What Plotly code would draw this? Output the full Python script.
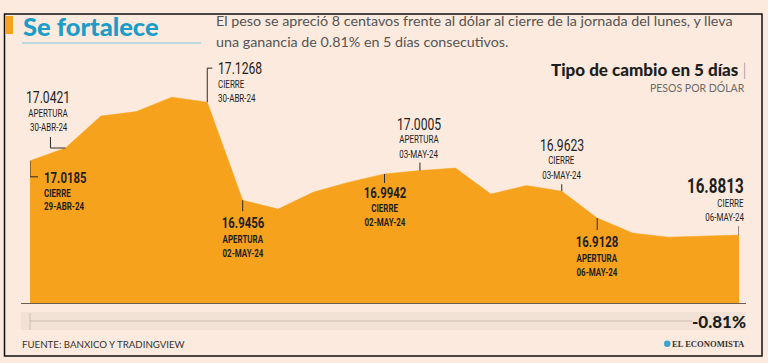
import plotly.graph_objects as go

# ---------------- data ----------------
puntos = list(range(21))  # observaciones intradía, 29-abr a 06-may-24
tipo_cambio = [17.0185, 17.0421, 17.1010, 17.1093, 17.1360, 17.1268, 16.9456,
               16.9293, 16.9607, 16.9791, 16.9942, 17.0005, 17.0050, 16.9570,
               16.9727, 16.9623, 16.9128, 16.8850, 16.8776, 16.8795, 16.8813]
etiqueta_idx = [0, 1, 5, 6, 10, 11, 15, 16, 20]
etiqueta_tipo = ["CIERRE", "APERTURA", "CIERRE", "APERTURA", "CIERRE",
                 "APERTURA", "CIERRE", "APERTURA", "CIERRE"]
etiqueta_fecha = ["29-ABR-24", "30-ABR-24", "30-ABR-24", "02-MAY-24", "02-MAY-24",
                  "03-MAY-24", "03-MAY-24", "06-MAY-24", "06-MAY-24"]
variacion = "-0.81%"
titulo = "Se fortalece"
subtitulo = ["El peso se apreció 8 centavos frente al dólar al cierre de la jornada del lunes, y lleva",
             "una ganancia de 0.81% en 5 días consecutivos."]
titulo_grafico = "Tipo de cambio en 5 días"
unidad = "PESOS POR DÓLAR"
fuente = "FUENTE: BANXICO Y TRADINGVIEW"
medio = "EL ECONOMISTA"

# ---------------- layout helpers ----------------
W, H = 768, 363
ML, MR, MT, MB = 30, 29, 60, 60
PW, PH = W - ML - MR, H - MT - MB
Y0, Y1 = 16.756, 16.756 + 243 / 541.7

def px(x):
    return (x - ML) / PW

def py(y):
    return (H - MB - y) / PH

BG = "#fbeadd"
ORANGE = "#f7a21d"
BLUE = "#1b9dc8"
NARROW = "Roboto, sans-serif"
SANS = "Lato, Open Sans, sans-serif"

fig = go.Figure()
fig.add_trace(go.Scatter(
    x=puntos, y=tipo_cambio, mode="lines", fill="tozeroy",
    fillcolor=ORANGE, line=dict(color=ORANGE, width=0.5), hoverinfo="skip"))

shapes = []
annotations = []

# label style specs: leader path (pixels, y up), anchor, dx, screen dy per line, bold flags, sizes
specs = [
    ("M0,0 L0,-16 L8,-16", "left", 12, [17, 33, 46], (True, True, True), (15, 10.5, 10.5)),
    ("M0,0 L-15,0 L-15,11", "center", -17, [-51, -35, -21], (False, False, False), (16, 10.5, 10.5)),
    ("M0,0 L0,34 L5,34", "left", 9, [-34, -18, -4], (False, False, False), (16, 10.5, 10.5)),
    ("M0,0 L0,-11", "center", 0, [23, 39, 53], (True, True, True), (15, 10.5, 10.5)),
    ("M0,0 L0,-9", "center", 0, [19, 35, 49], (True, True, True), (15, 10.5, 10.5)),
    ("M0,0 L0,8", "center", -1, [-46, -31, -16], (False, False, False), (16, 10.5, 10.5)),
    ("M0,0 L0,7", "center", 0, [-46, -31, -16], (False, False, False), (16, 10.5, 10.5)),
    ("M0,0 L0,-12", "center", 0, [24, 40, 54], (True, True, True), (15, 10.5, 10.5)),
    ("M0,0 L0,9", "right", 7, [-49, -32, -18], (True, False, False), (20, 10.5, 10.5)),
]

for k, i in enumerate(etiqueta_idx):
    path, anchor, dx, dys, bolds, sizes = specs[k]
    v = tipo_cambio[i]
    shapes.append(dict(type="path", xref="x", yref="y", xsizemode="pixel", ysizemode="pixel",
                       xanchor=i, yanchor=v, path=path, line=dict(color="#2b2b2b", width=1)))
    textos = [f"{v:.4f}", etiqueta_tipo[k], etiqueta_fecha[k]]
    for t, dy, b, s in zip(textos, dys, bolds, sizes):
        annotations.append(dict(
            x=i, y=v, xref="x", yref="y", xshift=dx, yshift=-dy,
            text=f"<b>{t}</b>" if b else t, showarrow=False,
            xanchor=anchor, yanchor="middle",
            font=dict(family=NARROW, size=s, color="#1e1e1e")))
N_NARROW = len(annotations)

# frame and decorations
shapes += [
    dict(type="rect", xref="paper", yref="paper", x0=px(4.5), x1=px(762), y0=py(14), y1=py(356),
         line=dict(color="#111111", width=1.5), layer="above"),
    dict(type="rect", xref="paper", yref="paper", x0=px(5.5), x1=px(13), y0=py(16), y1=py(34),
         fillcolor=ORANGE, line=dict(width=0)),
    dict(type="line", xref="paper", yref="paper", x0=px(22), x1=px(201), y0=py(43), y1=py(43),
         line=dict(color="#7cc4dc", width=1)),
    dict(type="rect", xref="paper", yref="paper", x0=px(21), x1=px(746), y0=py(312), y1=py(330),
         fillcolor="#f1e2d5", line=dict(width=0), layer="below"),
    dict(type="line", xref="paper", yref="paper", x0=px(30), x1=px(692), y0=py(321), y1=py(321),
         line=dict(color="#cbbdb0", width=1)),
    dict(type="line", xref="paper", yref="paper", x0=px(30), x1=px(30), y0=py(313), y1=py(330),
         line=dict(color="#cbbdb0", width=1)),
    dict(type="line", xref="paper", yref="paper", x0=px(21), x1=px(746), y0=py(303.5), y1=py(303.5),
         line=dict(color="#6e5e52", width=1)),
    dict(type="circle", xref="paper", yref="paper", x0=px(664), x1=px(670.5), y0=py(340.5), y1=py(347),
         fillcolor="#3aa6cf", line=dict(width=0)),
]

annotations += [
    dict(x=px(21), y=py(26), text=titulo, xanchor="left",
         font=dict(family=SANS, size=25.5, color=BLUE, weight=900)),
    dict(x=px(214), y=py(21), text=subtitulo[0], xanchor="left",
         font=dict(family=SANS, size=14.3, color="#555555")),
    dict(x=px(214), y=py(41), text=subtitulo[1], xanchor="left",
         font=dict(family=SANS, size=14.3, color="#555555")),
    dict(x=px(748), y=py(69),
         text=f"{titulo_grafico} <span style='color:#888888;font-weight:300'>|</span>", xanchor="right",
         font=dict(family=SANS, size=17, color="#1e1e1e", weight=900)),
    dict(x=px(747), y=py(87), text=unidad, xanchor="right",
         font=dict(family=SANS, size=10.5, color="#6a6a6a")),
    dict(x=px(748), y=py(321), text=variacion, xanchor="right",
         font=dict(family=SANS, size=17, color="#1e1e1e", weight=900)),
    dict(x=px(20), y=py(344), text=fuente, xanchor="left",
         font=dict(family=SANS, size=9.7, color="#333333")),
    dict(x=px(747), y=py(344), text=f"<b>{medio}</b>", xanchor="right",
         font=dict(family="Liberation Serif, DejaVu Serif, serif", size=8.6, color="#333333")),
]
for a in annotations[N_NARROW:]:
    a.update(xref="paper", yref="paper", showarrow=False, yanchor="middle")

fig.update_layout(
    width=W, height=H, margin=dict(l=ML, r=MR, t=MT, b=MB),
    paper_bgcolor=BG, plot_bgcolor=BG, showlegend=False,
    xaxis=dict(range=[0, 20], visible=False, fixedrange=True),
    yaxis=dict(range=[Y0, Y1], visible=False, fixedrange=True),
    shapes=shapes, annotations=annotations,
)

# page tweaks: no body margin; condense the label texts horizontally (condensed font look)
post = """
document.body.style.margin='0';document.body.style.background='%s';
try {
  var gd = document.getElementById('{plot_id}');
  gd.querySelectorAll('g.annotation').forEach(function(g){
    var idx = +g.getAttribute('data-index');
    if (idx < %d) {
      var t = g.querySelector('text.annotation-text');
      var bb = t.getBBox();
      var xa = gd.layout.annotations[idx].xanchor;
      var ax = xa === 'left' ? bb.x : (xa === 'right' ? bb.x + bb.width : bb.x + bb.width / 2);
      t.setAttribute('transform', 'translate(' + ax + ',0) scale(0.76,1) translate(' + (-ax) + ',0)');
    }
  });
} catch (e) {}
""" % (BG, N_NARROW)

fig.write_html("out.html", config={"displayModeBar": False}, post_script=post)
